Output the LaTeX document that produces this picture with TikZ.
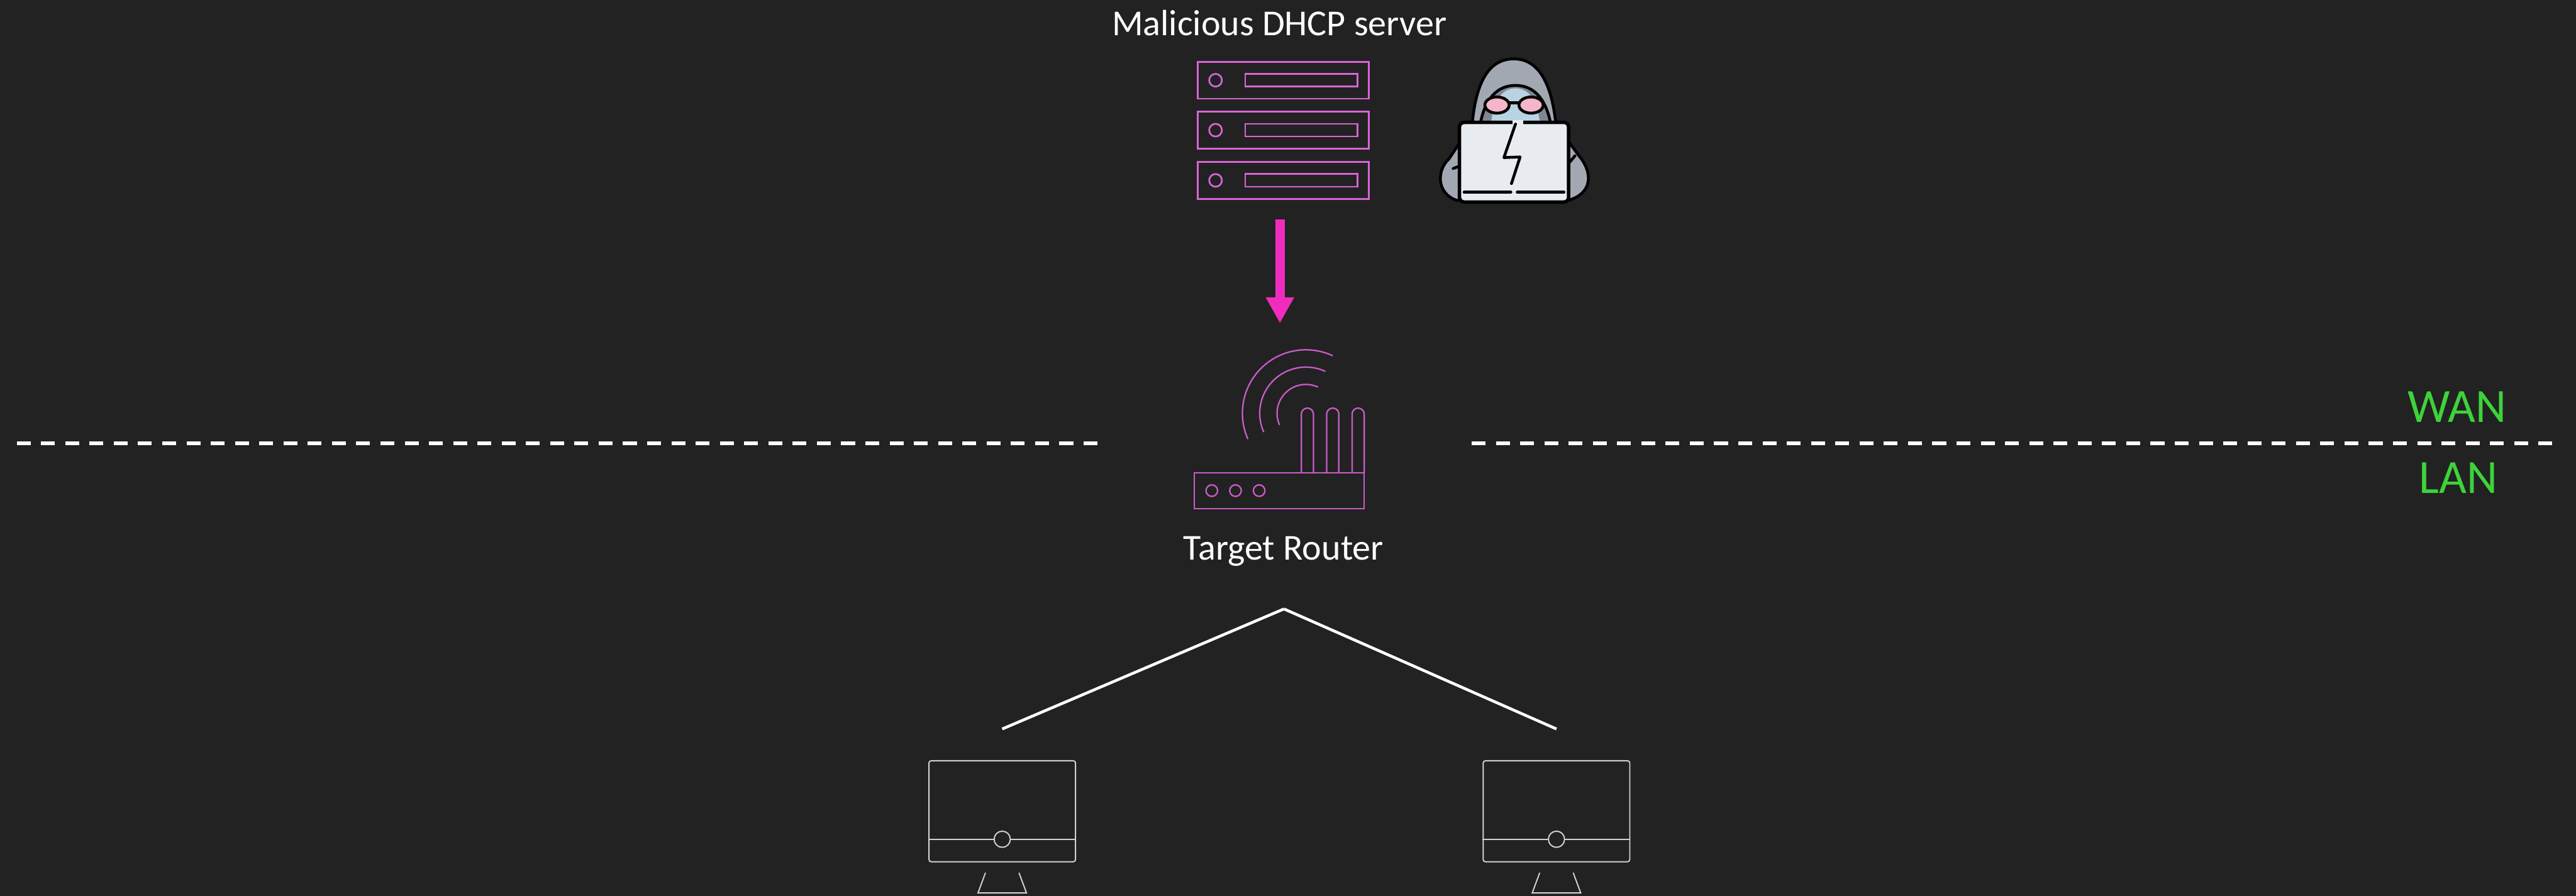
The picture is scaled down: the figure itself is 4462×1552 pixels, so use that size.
\documentclass[tikz,border=0pt]{standalone}
\usepackage{fontspec}
\setmainfont{Carlito}
\usepackage{tikz}
\usepackage{xcolor}
\usetikzlibrary{positioning,arrows.meta,calc}

\definecolor{bgdark}{HTML}{222222}
\definecolor{rackpink}{HTML}{D865D6}
\definecolor{routerpink}{HTML}{CB5CCB}
\definecolor{pushpink}{HTML}{F02CBE}
\definecolor{zonegreen}{HTML}{3DD33A}
\definecolor{screengray}{HTML}{D2D2D2}
\definecolor{hoodgray}{HTML}{A1A8B2}
\definecolor{hoodshade}{HTML}{7E8792}
\definecolor{skinblue}{HTML}{B8D3E1}
\definecolor{lenspink}{HTML}{F5B6C9}
\definecolor{laptopwhite}{HTML}{E8EBF0}

\begin{document}
\begin{tikzpicture}[x=0.1mm,y=-0.1mm,
    caption/.style={text=white,font=\fontsize{18}{21}\selectfont,anchor=base,inner sep=0},
    zone/.style={text=zonegreen,font=\fontsize{23.5}{28}\selectfont,anchor=base,inner sep=0},
    rack/.style={draw=rackpink,line width=0.85pt,minimum width=29.6mm,minimum height=6.4mm,inner sep=0},
    rackbar/.style={draw=rackpink,line width=0.85pt,minimum width=19.4mm,minimum height=2.2mm,inner sep=0},
    routerbox/.style={draw=routerpink,line width=0.7pt,minimum width=29.4mm,minimum height=6.2mm,inner sep=0},
    screen/.style={draw=screengray,line width=0.6pt,rounded corners=0.4mm,minimum width=25.4mm,minimum height=17.5mm,inner sep=0},
    push/.style={draw=pushpink,line width=1.6mm,-{Triangle[width=4.6mm,length=4.5mm]}},
    link/.style={draw=white,line width=1.4pt},
    boundary/.style={draw=white,line width=2pt,dash pattern=on 2.4mm off 1.8mm}]

    % Dark slide background
    \fill[bgdark] (0,0) rectangle (4462,1552);
    \useasboundingbox (0,0) rectangle (4462,1552);

    % WAN / LAN boundary
    \draw[boundary] (29,768) -- (1901,768);
    \draw[boundary] (2549,768) -- (4421,768);
    \node[zone] (wan) at (4256,731) {WAN};
    \node[zone] (lan) at (4258,855) {LAN};

    % Rogue server rack
    \node[caption] (servername) at (2216,62) {Malicious DHCP server};
    \foreach \i/\y in {1/139,2/225.5,3/312.5} {
        \node[rack] (rack\i) at (2223,\y) {};
        \draw[rackpink,line width=0.85pt] ([xshift=3.2mm]rack\i.west) circle (1.1mm);
        \node[rackbar] (bar\i) at (2254,\y) {};
    }

    % Hooded attacker at the laptop
    \begin{scope}[line width=1.4pt,line join=round,line cap=round]
        \filldraw[fill=hoodgray] (2523,347) .. controls (2488,335) and (2488,295) .. (2510,275)
            -- (2550,215) .. controls (2556,150) and (2575,102) .. (2622,102)
            .. controls (2668,102) and (2688,150) .. (2695,215)
            -- (2735,270) .. controls (2760,300) and (2758,335) .. (2717,347) -- cycle;
        \filldraw[fill=hoodshade] (2560,262) .. controls (2560,185) and (2585,148) .. (2625,148)
            .. controls (2665,148) and (2690,185) .. (2690,262);
        \fill[skinblue] (2582,262) .. controls (2578,200) and (2590,153) .. (2625,153)
            .. controls (2660,153) and (2672,200) .. (2668,262) -- cycle;
        \filldraw[fill=lenspink] (2593,182) ellipse[x radius=21,y radius=14];
        \filldraw[fill=lenspink] (2652,182) ellipse[x radius=21,y radius=14];
        \draw (2614,178) -- (2631,178);
        \draw (2517,292) -- (2530,287);
        \draw (2718,282) -- (2728,270);
        \filldraw[fill=laptopwhite,line width=1.7pt,rounded corners=0.8mm] (2528,212) rectangle (2717,350);
        \draw[laptopwhite,line width=2pt,line cap=butt] (2620,212) -- (2638,212);
        \draw (2536,333) -- (2617,333);
        \draw (2628,333) -- (2709,333);
        \draw (2625,215) -- (2605,273) -- (2633,272) -- (2618,318);
    \end{scope}

    % Forged offer pushed down to the router
    \coordinate (pushfrom) at (2217,380);
    \coordinate (pushto) at (2217,560);
    \draw[push] (pushfrom) -- (pushto);

    % Target router
    \node[routerbox] (router) at (2216,850) {};
    \foreach \x in {2099,2140,2181}
        \draw[routerpink,line width=0.7pt] (\x,850) circle (1mm);
    \foreach \x in {2254,2298,2342}
        \draw[routerpink,line width=0.7pt,rounded corners=1.05mm] (\x,819) -- (\x,707) -- (\x+21,707) -- (\x+21,819);
    \foreach \r in {110,80,50}
        \draw[routerpink,line width=0.7pt] (2262,716) ++(-204:\r) arc[start angle=-204,end angle=-65,radius=\r];
    \node[caption] (routername) at (2223,970) {Target Router};

    % LAN clients
    \coordinate (hub) at (2224,1055);
    \foreach \n/\x in {pcA/1736,pcB/2696} {
        \node[screen] (\n) at (\x,1405.5) {};
        \draw[screengray,line width=0.6pt] (\n.west |- 0,1454) -- (\n.east |- 0,1454);
        \filldraw[screengray,fill=bgdark,line width=0.6pt] (\x,1454) circle (1.4mm);
        \draw[screengray,line width=0.6pt] (\x-29,1512) -- (\x-42,1547) -- (\x+42,1547) -- (\x+29,1512);
        \coordinate (\n top) at ([yshift=5.4mm]\n.north);
        \draw[link] (hub) -- (\n top);
    }
\end{tikzpicture}
\end{document}
